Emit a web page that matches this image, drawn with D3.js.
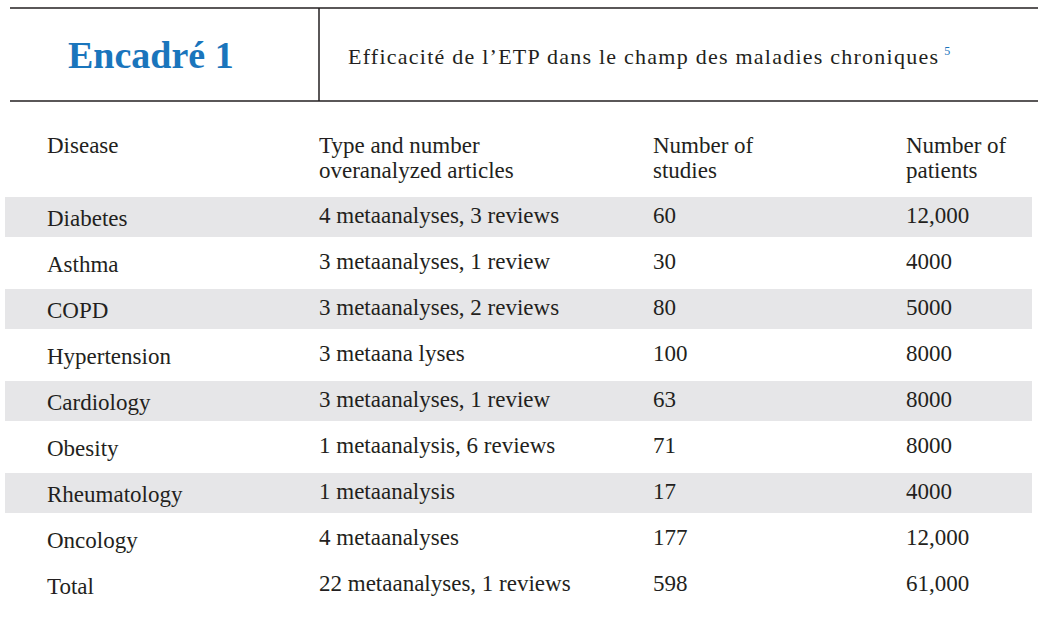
<!DOCTYPE html>
<html><head><meta charset="utf-8">
<script src="https://cdn.jsdelivr.net/npm/d3@7"></script>
<style>body{margin:0;background:#fff}</style>
</head><body>
<svg id="c" width="1041" height="624"></svg>
<script>
var headers = [["Disease"], ["Type and number", "overanalyzed articles"], ["Number of", "studies"], ["Number of", "patients"]];
var diseases = ["Diabetes", "Asthma", "COPD", "Hypertension", "Cardiology", "Obesity", "Rheumatology", "Oncology", "Total"];
var articles = ["4 metaanalyses, 3 reviews", "3 metaanalyses, 1 review", "3 metaanalyses, 2 reviews", "3 metaana lyses",
  "3 metaanalyses, 1 review", "1 metaanalysis, 6 reviews", "1 metaanalysis", "4 metaanalyses", "22 metaanalyses, 1 reviews"];
var studies = ["60", "30", "80", "100", "63", "71", "17", "177", "598"];
var patients = ["12,000", "4000", "5000", "8000", "8000", "8000", "4000", "12,000", "61,000"];

var svg = d3.select("#c");
var font = "'Liberation Serif', 'DejaVu Serif', serif";
var ink = "#231f20";

// header box
svg.append("line").attr("x1", 10).attr("x2", 1038).attr("y1", 8).attr("y2", 8).attr("stroke", ink).attr("stroke-width", 1.5);
svg.append("line").attr("x1", 10).attr("x2", 1038).attr("y1", 101).attr("y2", 101).attr("stroke", ink).attr("stroke-width", 1.5);
svg.append("line").attr("x1", 319).attr("x2", 319).attr("y1", 8).attr("y2", 101).attr("stroke", ink).attr("stroke-width", 1.5);
svg.append("text").attr("x", 68).attr("y", 68).attr("font-family", font).attr("font-size", 38)
  .attr("font-weight", "bold").attr("fill", "#1a75bc").text("Encadré 1");
var sub = svg.append("text").attr("x", 348).attr("y", 64).attr("font-family", font).attr("font-size", 22).attr("fill", ink);
sub.append("tspan").attr("textLength", 590).attr("lengthAdjust", "spacing")
  .text("Efficacité de l’ETP dans le champ des maladies chroniques");
sub.append("tspan").attr("font-size", 12).attr("dx", 5).attr("dy", -9).attr("fill", "#1a75bc").text("5");

var colX = [47, 319, 653, 906];
var y = d3.scaleBand().domain(d3.range(diseases.length)).range([194, 608]);

svg.selectAll("rect.band").data(d3.range(diseases.length).filter(function(i) { return i % 2 == 0 && i < 8; }))
  .enter().append("rect").attr("class", "band")
  .attr("x", 5).attr("width", 1027)
  .attr("y", function(i) { return y(i) + 3; }).attr("height", y.bandwidth() - 6)
  .attr("fill", "#e6e6e8");

headers.forEach(function(h, c) {
  h.forEach(function(line, k) {
    svg.append("text").attr("x", colX[c]).attr("y", 153 + k * 25).attr("font-family", font)
      .attr("font-size", 23).attr("fill", ink).text(line);
  });
});

var cols = [diseases, articles, studies, patients];
cols.forEach(function(arr, c) {
  svg.selectAll("text.c" + c).data(arr).enter().append("text").attr("class", "c" + c)
    .attr("x", colX[c]).attr("y", function(d, i) { return y(i) + y.bandwidth() / 2 + (c == 0 ? 9 : 6); })
    .attr("font-family", font).attr("font-size", 23).attr("fill", ink).text(function(d) { return d; });
});
</script>
</body></html>
